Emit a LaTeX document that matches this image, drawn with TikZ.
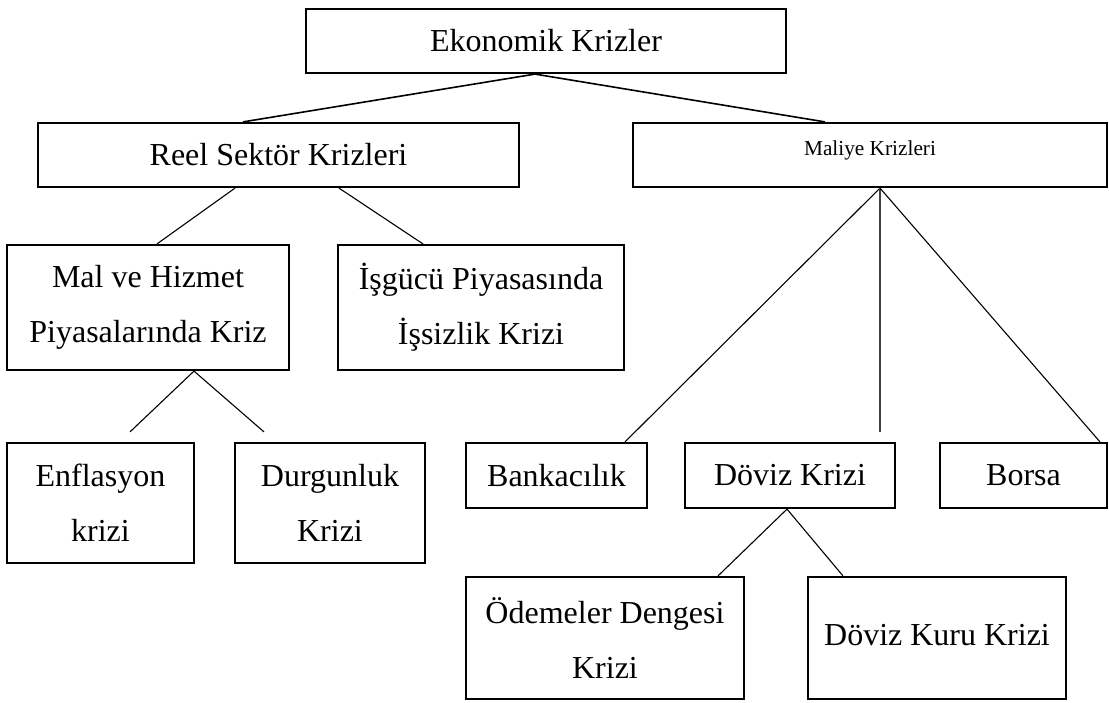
\documentclass[tikz,border=0pt]{standalone}
\usepackage{fontspec}
\setmainfont{Liberation Serif}
\begin{document}
\begin{tikzpicture}[x=1pt,y=-1pt,
  box/.style={draw=black, line width=2.2pt, inner sep=0pt, align=center,
    font=\fontsize{32}{55}\selectfont},
  smallbox/.style={box, font=\fontsize{21.3}{25}\selectfont, text height=10pt, text depth=10pt},
  conn/.style={draw=black, line width=1.1pt},
  topconn/.style={draw=black, line width=1.6pt}]
\useasboundingbox (0,0) rectangle (1109,702);
% top level
\node[box, minimum width=480pt, minimum height=64pt] (ek) at (546,41) {Ekonomik Krizler};
% second level
\node[box, minimum width=481pt, minimum height=64pt] (reel) at (278.5,155) {Reel Sektör Krizleri};
\node[smallbox, minimum width=474pt, minimum height=64pt] (maliye) at (870,155) {Maliye Krizleri};
% third level (left)
\node[box, minimum width=282pt, minimum height=125pt] (mal) at (148,307.5) {Mal ve Hizmet\\Piyasalarında Kriz};
\node[box, minimum width=286pt, minimum height=125pt] (isg) at (481,307.5) {İşgücü Piyasasında\\İşsizlik Krizi};
% fourth level (left)
\node[box, minimum width=187pt, minimum height=120pt] (enf) at (100.5,503) {Enflasyon\\krizi};
\node[box, minimum width=190pt, minimum height=120pt] (dur) at (330,503) {Durgunluk\\Krizi};
% third level (right)
\node[box, minimum width=181pt, minimum height=65pt] (bank) at (556.5,475.5) {Bankacılık};
\node[box, minimum width=210pt, minimum height=65pt] (dkr) at (790,475.5) {Döviz Krizi};
\node[box, minimum width=167pt, minimum height=65pt] (borsa) at (1023.5,475.5) {Borsa};
% fourth level (right)
\node[box, minimum width=278pt, minimum height=122pt] (ode) at (605,638) {Ödemeler Dengesi\\Krizi};
\node[box, minimum width=258pt, minimum height=122pt, text height=24pt, text depth=10pt] (dkk) at (937,638) {Döviz Kuru Krizi};
% connectors
\draw[topconn] ([xshift=-11pt]ek.south) -- ([xshift=-35.5pt]reel.north);
\draw[topconn] ([xshift=-11pt]ek.south) -- ([xshift=-45pt]maliye.north);
\draw[conn] ([xshift=-43.5pt]reel.south) -- ([xshift=9pt]mal.north);
\draw[conn] ([xshift=60.5pt]reel.south) -- ([xshift=-58pt]isg.north);
\draw[conn] ([xshift=46pt]mal.south) -- ([xshift=29.5pt,yshift=10pt]enf.north);
\draw[conn] ([xshift=46pt]mal.south) -- ([xshift=-66pt,yshift=10pt]dur.north);
\draw[conn] ([xshift=10pt]maliye.south) -- ([xshift=68.5pt]bank.north);
\draw[conn, line width=1.4pt, draw=black!75] ([xshift=10pt]maliye.south) -- ([xshift=90pt,yshift=10pt]dkr.north);
\draw[conn] ([xshift=10pt]maliye.south) -- ([xshift=76.5pt]borsa.north);
\draw[conn] ([xshift=-3pt]dkr.south) -- ([xshift=113pt]ode.north);
\draw[conn] ([xshift=-3pt]dkr.south) -- ([xshift=-94pt]dkk.north);
\end{tikzpicture}
\end{document}
